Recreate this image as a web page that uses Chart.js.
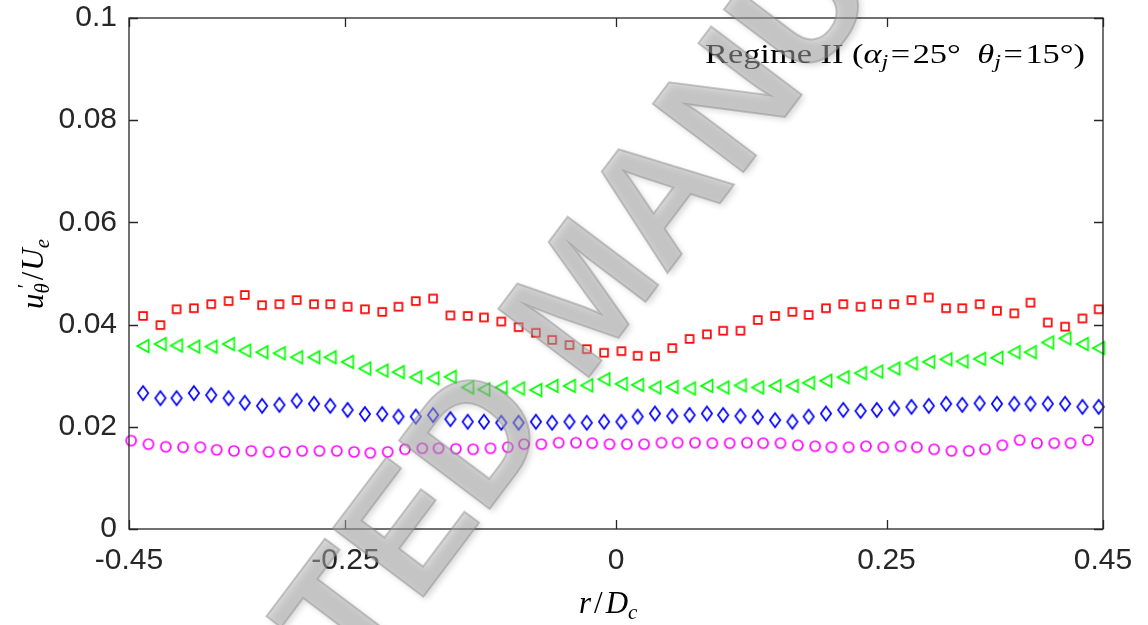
<!DOCTYPE html>
<html>
<head>
<meta charset="utf-8">
<script src="https://cdn.jsdelivr.net/npm/chart.js@4.4.1/dist/chart.umd.min.js"></script>
<style>
  html, body { margin: 0; padding: 0; background: #fff; }
  #wrap { width: 1148px; height: 625px; }
</style>
</head>
<body>
<div id="wrap"><canvas id="profileChart" width="1148" height="625"></canvas></div>
<script>
// radial stations (r/Dc) for squares, triangles and diamonds
const rStations = [
  -0.437, -0.421, -0.406, -0.390, -0.374, -0.358, -0.343, -0.327, -0.311, -0.295,
  -0.279, -0.264, -0.248, -0.232, -0.216, -0.201, -0.185, -0.169, -0.153, -0.137,
  -0.122, -0.106, -0.090, -0.074, -0.059, -0.043, -0.027, -0.011, 0.005, 0.020,
  0.036, 0.052, 0.068, 0.084, 0.099, 0.115, 0.131, 0.147, 0.163, 0.178,
  0.194, 0.210, 0.226, 0.241, 0.257, 0.273, 0.289, 0.305, 0.320, 0.336,
  0.352, 0.368, 0.383, 0.399, 0.415, 0.431, 0.446
];
// the circle series was sampled on a slightly shifted grid
const rStationsCircle = [
  -0.448, -0.432, -0.416, -0.400, -0.384, -0.369, -0.353, -0.337, -0.321, -0.306,
  -0.290, -0.274, -0.258, -0.242, -0.227, -0.211, -0.195, -0.179, -0.164, -0.148,
  -0.132, -0.116, -0.100, -0.085, -0.069, -0.053, -0.037, -0.022, -0.006, 0.010,
  0.026, 0.042, 0.057, 0.073, 0.089, 0.105, 0.121, 0.136, 0.152, 0.168,
  0.184, 0.199, 0.215, 0.231, 0.247, 0.263, 0.278, 0.294, 0.310, 0.326,
  0.341, 0.357, 0.373, 0.389, 0.405, 0.420, 0.436
];

const squareVals = [
  0.0417, 0.0399, 0.0430, 0.0432, 0.0440, 0.0446, 0.0458, 0.0438, 0.0440, 0.0448,
  0.0440, 0.0440, 0.0435, 0.0430, 0.0425, 0.0435, 0.0446, 0.0451, 0.0418, 0.0417,
  0.0414, 0.0406, 0.0395, 0.0384, 0.0370, 0.0360, 0.0352, 0.0345, 0.0348, 0.0339,
  0.0338, 0.0354, 0.0372, 0.0381, 0.0388, 0.0388, 0.0409, 0.0417, 0.0425, 0.0419,
  0.0432, 0.0440, 0.0435, 0.0440, 0.0440, 0.0448, 0.0453, 0.0432, 0.0432, 0.0440,
  0.0427, 0.0422, 0.0443, 0.0404, 0.0396, 0.0412, 0.0430
];
const triangleVals = [
  0.0358, 0.0362, 0.0359, 0.0357, 0.0357, 0.0362, 0.0349, 0.0346, 0.0344, 0.0336,
  0.0336, 0.0336, 0.0327, 0.0314, 0.0310, 0.0307, 0.0297, 0.0295, 0.0298, 0.0277,
  0.0273, 0.0277, 0.0275, 0.0272, 0.0280, 0.0280, 0.0281, 0.0293, 0.0284, 0.0282,
  0.0277, 0.0278, 0.0275, 0.0280, 0.0277, 0.0281, 0.0277, 0.0280, 0.0280, 0.0286,
  0.0290, 0.0297, 0.0305, 0.0308, 0.0314, 0.0324, 0.0327, 0.0332, 0.0328, 0.0333,
  0.0335, 0.0346, 0.0346, 0.0365, 0.0373, 0.0362, 0.0354
];
const diamondVals = [
  0.0266, 0.0256, 0.0256, 0.0266, 0.0262, 0.0256, 0.0247, 0.0241, 0.0243, 0.0251,
  0.0245, 0.0241, 0.0233, 0.0225, 0.0225, 0.0220, 0.0220, 0.0223, 0.0215, 0.0210,
  0.0210, 0.0208, 0.0208, 0.0210, 0.0208, 0.0210, 0.0208, 0.0210, 0.0210, 0.0220,
  0.0226, 0.0221, 0.0223, 0.0226, 0.0223, 0.0221, 0.0219, 0.0213, 0.0210, 0.0220,
  0.0226, 0.0233, 0.0231, 0.0233, 0.0236, 0.0239, 0.0241, 0.0245, 0.0243, 0.0246,
  0.0245, 0.0245, 0.0245, 0.0245, 0.0245, 0.0239, 0.0239
];
const circleVals = [
  0.0173, 0.0166, 0.0161, 0.0160, 0.0160, 0.0155, 0.0153, 0.0153, 0.0151, 0.0151,
  0.0153, 0.0153, 0.0153, 0.0151, 0.0149, 0.0151, 0.0156, 0.0158, 0.0158, 0.0157,
  0.0156, 0.0158, 0.0160, 0.0166, 0.0166, 0.0169, 0.0169, 0.0168, 0.0166, 0.0166,
  0.0166, 0.0169, 0.0169, 0.0169, 0.0168, 0.0168, 0.0169, 0.0168, 0.0168, 0.0164,
  0.0162, 0.0160, 0.0160, 0.0162, 0.0160, 0.0162, 0.0160, 0.0156, 0.0153, 0.0153,
  0.0156, 0.0164, 0.0174, 0.0168, 0.0168, 0.0168, 0.0174
];

const xTicks = [-0.45, -0.25, 0, 0.25, 0.45];
const yTicks = [0, 0.02, 0.04, 0.06, 0.08, 0.1];

const AXIS_COLOR = '#262626';

// matlab-like hollow markers
function marker(kind, color) {
  const c = document.createElement('canvas');
  c.width = 20; c.height = 20;
  const g = c.getContext('2d');
  g.strokeStyle = color;
  g.lineWidth = 1.7;
  g.beginPath();
  if (kind === 'square') {
    g.rect(10 - 3.9, 10 - 3.9, 7.8, 7.8);
  } else if (kind === 'left') {
    g.moveTo(4.2, 10); g.lineTo(15.6, 3.7); g.lineTo(15.6, 16.3); g.closePath();
  } else if (kind === 'diamond') {
    g.moveTo(10, 3); g.lineTo(15.2, 10); g.lineTo(10, 17); g.lineTo(4.8, 10); g.closePath();
  } else {
    g.arc(10, 10, 5, 0, Math.PI * 2);
  }
  g.stroke();
  return c;
}

function pts(xs, ys) {
  return xs.map((r, i) => ({ x: r, y: ys[i] }));
}

// draw a run of text pieces (for sub/superscripts)
function drawRun(ctx, pieces, x, y) {
  let cx = x;
  pieces.forEach(p => {
    ctx.font = p.font;
    if (p.gap) cx += p.gap;
    ctx.fillText(p.t, cx + (p.dx || 0), y + (p.dy || 0));
    if (!p.stack) cx += ctx.measureText(p.t).width;
  });
  return cx - x;
}
function runWidth(ctx, pieces) {
  let w = 0;
  pieces.forEach(p => {
    ctx.font = p.font;
    if (p.gap) w += p.gap;
    if (!p.stack) w += ctx.measureText(p.t).width;
  });
  return w;
}

const SERIF = '"Liberation Serif", "DejaVu Serif", serif';

const frame = {
  id: 'frame',
  afterDatasetsDraw(chart) {
    const { ctx, chartArea: a, scales: { x, y } } = chart;
    ctx.save();
    ctx.strokeStyle = AXIS_COLOR;
    ctx.lineWidth = 1.3;
    ctx.strokeRect(a.left, a.top, a.right - a.left, a.bottom - a.top);
    ctx.beginPath();
    xTicks.forEach(v => {
      const px = Math.round(x.getPixelForValue(v)) + 0.5;
      ctx.moveTo(px, a.bottom); ctx.lineTo(px, a.bottom - 9);
      ctx.moveTo(px, a.top); ctx.lineTo(px, a.top + 9);
    });
    yTicks.forEach(v => {
      const py = Math.round(y.getPixelForValue(v)) + 0.5;
      ctx.moveTo(a.left, py); ctx.lineTo(a.left + 9, py);
      ctx.moveTo(a.right, py); ctx.lineTo(a.right - 9, py);
    });
    ctx.stroke();
    ctx.restore();
  },
  afterDraw(chart) {
    const { ctx } = chart;
    ctx.save();
    ctx.fillStyle = '#000';
    ctx.textBaseline = 'alphabetic';
    ctx.textAlign = 'left';

    // regime label, upper right, stretched to its box
    const up = '27px ' + SERIF, it = 'italic 27px ' + SERIF, sub = 'italic 19px ' + SERIF;
    const regime = [
      { t: 'Regime II (', font: up },
      { t: 'α', font: it },
      { t: 'j', font: sub, dy: 5 },
      { t: '=', font: up, gap: 2 },
      { t: '25°', font: up, gap: 2 },
      { t: 'θ', font: it, gap: 13 },
      { t: 'j', font: sub, dy: 5 },
      { t: '=', font: up, gap: 2 },
      { t: '15°)', font: up, gap: 2 }
    ];
    const rw = runWidth(ctx, regime);
    ctx.save();
    ctx.translate(705, 63);
    ctx.scale(380 / rw, 1);
    drawRun(ctx, regime, 0, 0);
    ctx.restore();

    // x title
    const it31 = 'italic 31px ' + SERIF;
    const up31 = '31px ' + SERIF;
    const it21 = 'italic 21px ' + SERIF;
    drawRun(ctx, [
      { t: 'r', font: it31 },
      { t: '/', font: up31, gap: 3 },
      { t: 'D', font: it31, gap: 3 },
      { t: 'c', font: it21, dy: 6 }
    ], 579, 613);

    // y title, rotated
    const yPieces = [
      { t: 'u', font: it31 },
      { t: '′', font: it21, dy: -11, dx: 4, stack: true },
      { t: 'θ', font: it21, dy: 6 },
      { t: '/', font: up31, gap: 3 },
      { t: 'U', font: it31, gap: 1 },
      { t: 'e', font: it21, dy: 6 }
    ];
    const w = runWidth(ctx, yPieces);
    ctx.translate(43, 274);
    ctx.rotate(-Math.PI / 2);
    drawRun(ctx, yPieces, -w / 2, 0);
    ctx.restore();

    // diagonal watermark
    ctx.save();
    ctx.translate(590, 300);
    ctx.rotate(-53 * Math.PI / 180);
    ctx.font = 'bold 165px "Liberation Sans", Arial, sans-serif';
    ctx.textAlign = 'center';
    ctx.textBaseline = 'middle';
    ctx.shadowColor = 'rgba(0,0,0,0.3)';
    ctx.shadowBlur = 6;
    ctx.shadowOffsetX = 3;
    ctx.shadowOffsetY = 3;
    ctx.fillStyle = 'rgba(175,175,175,0.5)';
    ctx.fillText('ACCEPTED MANUSCRIPT', 0, 0);
    ctx.shadowColor = 'transparent';
    ctx.strokeStyle = 'rgba(130,130,130,0.4)';
    ctx.lineWidth = 2;
    ctx.strokeText('ACCEPTED MANUSCRIPT', 0, 0);
    ctx.restore();
  }
};

const tickFont = { family: '"Liberation Sans", Arial, sans-serif', size: 30 };

new Chart(document.getElementById('profileChart'), {
  type: 'scatter',
  data: {
    datasets: [
      { label: 'squares', data: pts(rStations, squareVals), pointStyle: marker('square', '#ff0000') },
      { label: 'triangles', data: pts(rStations, triangleVals), pointStyle: marker('left', '#00ff00') },
      { label: 'diamonds', data: pts(rStations, diamondVals), pointStyle: marker('diamond', '#0000ff') },
      { label: 'circles', data: pts(rStationsCircle, circleVals), pointStyle: marker('circle', '#ff00ff') }
    ].map(d => Object.assign(d, { pointRadius: 5, pointHoverRadius: 5, showLine: false, clip: false }))
  },
  options: {
    responsive: false,
    animation: false,
    devicePixelRatio: 1,
    layout: { padding: { top: 18, right: 45, left: 0, bottom: 0 } },
    plugins: { legend: { display: false }, tooltip: { enabled: false } },
    scales: {
      x: {
        type: 'linear',
        min: -0.45, max: 0.45,
        grid: { display: false, drawTicks: false },
        border: { display: false },
        afterBuildTicks: s => { s.ticks = xTicks.map(v => ({ value: v })); },
        afterFit: s => { s.height = 96; s.paddingLeft = 0; s.paddingRight = 0; },
        ticks: {
          color: AXIS_COLOR, font: tickFont, padding: 14, maxRotation: 0, autoSkip: false,
          callback: v => String(v)
        }
      },
      y: {
        min: 0, max: 0.1,
        grid: { display: false, drawTicks: false },
        border: { display: false },
        afterBuildTicks: s => { s.ticks = yTicks.map(v => ({ value: v })); },
        afterFit: s => { s.width = 129; s.paddingTop = 0; s.paddingBottom = 0; },
        ticks: {
          color: AXIS_COLOR, font: tickFont, padding: 12,
          callback: v => String(v)
        }
      }
    }
  },
  plugins: [frame]
});
</script>
</body>
</html>
